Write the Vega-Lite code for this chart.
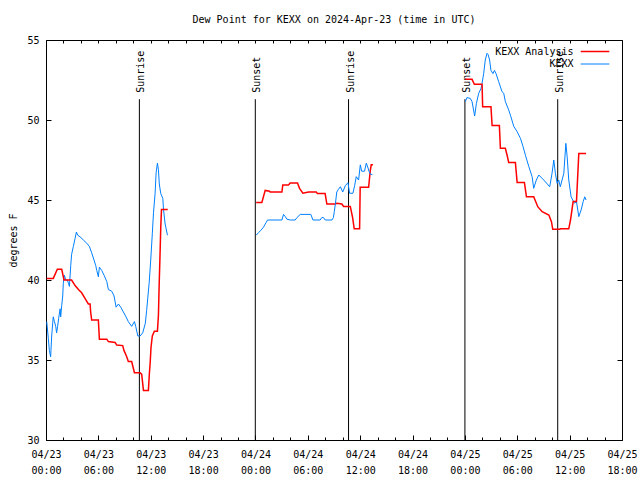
{
  "$schema": "https://vega.github.io/schema/vega-lite/v6.json",
  "width": 576,
  "height": 400,
  "autosize": {"type": "none"},
  "padding": {"left": 46, "top": 40, "right": 18, "bottom": 40},
  "background": "white",
  "title": {"text": "Dew Point for KEXX on 2024-Apr-23 (time in UTC)", "font": "DejaVu Sans Mono", "fontSize": 10, "fontWeight": "normal", "color": "black", "anchor": "middle", "offset": 10},
  "config": {
    "view": {"stroke": "black", "strokeWidth": 1},
    "axis": {"domain": false, "grid": false, "labelFont": "DejaVu Sans Mono", "labelFontSize": 10, "labelColor": "black", "tickColor": "black", "tickWidth": 1, "titleFont": "DejaVu Sans Mono", "titleFontSize": 10, "titleFontWeight": "normal", "titleColor": "black"},
    "legend": {"labelFont": "DejaVu Sans Mono", "labelFontSize": 10, "labelColor": "black"}
  },
  "datasets": {
    "obs": [
      {"time": "2024-04-23T00:05Z", "series": "KEXX", "seg": 1, "dewpoint": 37.4},
      {"time": "2024-04-23T00:16Z", "series": "KEXX", "seg": 1, "dewpoint": 36.35},
      {"time": "2024-04-23T00:23Z", "series": "KEXX", "seg": 1, "dewpoint": 35.6},
      {"time": "2024-04-23T00:32Z", "series": "KEXX", "seg": 1, "dewpoint": 35.2},
      {"time": "2024-04-23T00:39Z", "series": "KEXX", "seg": 1, "dewpoint": 36.5},
      {"time": "2024-04-23T00:46Z", "series": "KEXX", "seg": 1, "dewpoint": 37.3},
      {"time": "2024-04-23T00:50Z", "series": "KEXX", "seg": 1, "dewpoint": 37.7},
      {"time": "2024-04-23T00:58Z", "series": "KEXX", "seg": 1, "dewpoint": 37.4},
      {"time": "2024-04-23T01:07Z", "series": "KEXX", "seg": 1, "dewpoint": 37.1},
      {"time": "2024-04-23T01:13Z", "series": "KEXX", "seg": 1, "dewpoint": 36.7},
      {"time": "2024-04-23T01:20Z", "series": "KEXX", "seg": 1, "dewpoint": 37.1},
      {"time": "2024-04-23T01:27Z", "series": "KEXX", "seg": 1, "dewpoint": 37.6},
      {"time": "2024-04-23T01:37Z", "series": "KEXX", "seg": 1, "dewpoint": 38.2},
      {"time": "2024-04-23T01:41Z", "series": "KEXX", "seg": 1, "dewpoint": 37.7},
      {"time": "2024-04-23T01:48Z", "series": "KEXX", "seg": 1, "dewpoint": 38.4},
      {"time": "2024-04-23T01:55Z", "series": "KEXX", "seg": 1, "dewpoint": 39.0},
      {"time": "2024-04-23T01:59Z", "series": "KEXX", "seg": 1, "dewpoint": 39.8},
      {"time": "2024-04-23T02:06Z", "series": "KEXX", "seg": 1, "dewpoint": 40.3},
      {"time": "2024-04-23T02:16Z", "series": "KEXX", "seg": 1, "dewpoint": 40.0},
      {"time": "2024-04-23T02:27Z", "series": "KEXX", "seg": 1, "dewpoint": 40.0},
      {"time": "2024-04-23T02:34Z", "series": "KEXX", "seg": 1, "dewpoint": 39.8},
      {"time": "2024-04-23T02:41Z", "series": "KEXX", "seg": 1, "dewpoint": 39.6},
      {"time": "2024-04-23T02:50Z", "series": "KEXX", "seg": 1, "dewpoint": 40.9},
      {"time": "2024-04-23T02:56Z", "series": "KEXX", "seg": 1, "dewpoint": 41.6},
      {"time": "2024-04-23T03:08Z", "series": "KEXX", "seg": 1, "dewpoint": 42.1},
      {"time": "2024-04-23T03:20Z", "series": "KEXX", "seg": 1, "dewpoint": 42.6},
      {"time": "2024-04-23T03:29Z", "series": "KEXX", "seg": 1, "dewpoint": 43.0},
      {"time": "2024-04-23T03:38Z", "series": "KEXX", "seg": 1, "dewpoint": 42.8},
      {"time": "2024-04-23T03:54Z", "series": "KEXX", "seg": 1, "dewpoint": 42.7},
      {"time": "2024-04-23T04:17Z", "series": "KEXX", "seg": 1, "dewpoint": 42.5},
      {"time": "2024-04-23T04:40Z", "series": "KEXX", "seg": 1, "dewpoint": 42.3},
      {"time": "2024-04-23T04:58Z", "series": "KEXX", "seg": 1, "dewpoint": 42.1},
      {"time": "2024-04-23T05:14Z", "series": "KEXX", "seg": 1, "dewpoint": 41.7},
      {"time": "2024-04-23T05:30Z", "series": "KEXX", "seg": 1, "dewpoint": 41.25},
      {"time": "2024-04-23T05:42Z", "series": "KEXX", "seg": 1, "dewpoint": 40.9},
      {"time": "2024-04-23T05:49Z", "series": "KEXX", "seg": 1, "dewpoint": 40.6},
      {"time": "2024-04-23T06:00Z", "series": "KEXX", "seg": 1, "dewpoint": 40.2},
      {"time": "2024-04-23T06:07Z", "series": "KEXX", "seg": 1, "dewpoint": 40.8},
      {"time": "2024-04-23T06:23Z", "series": "KEXX", "seg": 1, "dewpoint": 40.6},
      {"time": "2024-04-23T06:39Z", "series": "KEXX", "seg": 1, "dewpoint": 40.3},
      {"time": "2024-04-23T06:58Z", "series": "KEXX", "seg": 1, "dewpoint": 39.9},
      {"time": "2024-04-23T07:09Z", "series": "KEXX", "seg": 1, "dewpoint": 39.4},
      {"time": "2024-04-23T07:32Z", "series": "KEXX", "seg": 1, "dewpoint": 39.3},
      {"time": "2024-04-23T07:48Z", "series": "KEXX", "seg": 1, "dewpoint": 39.0},
      {"time": "2024-04-23T08:02Z", "series": "KEXX", "seg": 1, "dewpoint": 38.3},
      {"time": "2024-04-23T08:18Z", "series": "KEXX", "seg": 1, "dewpoint": 38.5},
      {"time": "2024-04-23T08:34Z", "series": "KEXX", "seg": 1, "dewpoint": 38.3},
      {"time": "2024-04-23T08:52Z", "series": "KEXX", "seg": 1, "dewpoint": 38.0},
      {"time": "2024-04-23T09:10Z", "series": "KEXX", "seg": 1, "dewpoint": 37.7},
      {"time": "2024-04-23T09:26Z", "series": "KEXX", "seg": 1, "dewpoint": 37.4},
      {"time": "2024-04-23T09:49Z", "series": "KEXX", "seg": 1, "dewpoint": 37.1},
      {"time": "2024-04-23T10:08Z", "series": "KEXX", "seg": 1, "dewpoint": 37.4},
      {"time": "2024-04-23T10:17Z", "series": "KEXX", "seg": 1, "dewpoint": 37.1},
      {"time": "2024-04-23T10:31Z", "series": "KEXX", "seg": 1, "dewpoint": 36.5},
      {"time": "2024-04-23T10:47Z", "series": "KEXX", "seg": 1, "dewpoint": 36.5},
      {"time": "2024-04-23T11:05Z", "series": "KEXX", "seg": 1, "dewpoint": 36.7},
      {"time": "2024-04-23T11:23Z", "series": "KEXX", "seg": 1, "dewpoint": 37.3},
      {"time": "2024-04-23T11:32Z", "series": "KEXX", "seg": 1, "dewpoint": 38.1},
      {"time": "2024-04-23T11:49Z", "series": "KEXX", "seg": 1, "dewpoint": 39.8},
      {"time": "2024-04-23T12:00Z", "series": "KEXX", "seg": 1, "dewpoint": 41.25},
      {"time": "2024-04-23T12:11Z", "series": "KEXX", "seg": 1, "dewpoint": 42.9},
      {"time": "2024-04-23T12:19Z", "series": "KEXX", "seg": 1, "dewpoint": 44.2},
      {"time": "2024-04-23T12:30Z", "series": "KEXX", "seg": 1, "dewpoint": 45.4},
      {"time": "2024-04-23T12:37Z", "series": "KEXX", "seg": 1, "dewpoint": 46.7},
      {"time": "2024-04-23T12:46Z", "series": "KEXX", "seg": 1, "dewpoint": 47.3},
      {"time": "2024-04-23T12:53Z", "series": "KEXX", "seg": 1, "dewpoint": 46.9},
      {"time": "2024-04-23T12:59Z", "series": "KEXX", "seg": 1, "dewpoint": 46.0},
      {"time": "2024-04-23T13:09Z", "series": "KEXX", "seg": 1, "dewpoint": 45.4},
      {"time": "2024-04-23T13:23Z", "series": "KEXX", "seg": 1, "dewpoint": 45.1},
      {"time": "2024-04-23T13:28Z", "series": "KEXX", "seg": 1, "dewpoint": 44.4},
      {"time": "2024-04-23T13:39Z", "series": "KEXX", "seg": 1, "dewpoint": 43.5},
      {"time": "2024-04-23T13:46Z", "series": "KEXX", "seg": 1, "dewpoint": 43.2},
      {"time": "2024-04-23T13:55Z", "series": "KEXX", "seg": 1, "dewpoint": 42.8},

      {"time": "2024-04-23T00:05Z", "series": "KEXX Analysis", "seg": 1, "dewpoint": 40.1},
      {"time": "2024-04-23T00:50Z", "series": "KEXX Analysis", "seg": 1, "dewpoint": 40.1},
      {"time": "2024-04-23T01:18Z", "series": "KEXX Analysis", "seg": 1, "dewpoint": 40.67},
      {"time": "2024-04-23T01:48Z", "series": "KEXX Analysis", "seg": 1, "dewpoint": 40.67},
      {"time": "2024-04-23T02:04Z", "series": "KEXX Analysis", "seg": 1, "dewpoint": 40.0},
      {"time": "2024-04-23T02:56Z", "series": "KEXX Analysis", "seg": 1, "dewpoint": 40.0},
      {"time": "2024-04-23T03:20Z", "series": "KEXX Analysis", "seg": 1, "dewpoint": 39.65},
      {"time": "2024-04-23T03:43Z", "series": "KEXX Analysis", "seg": 1, "dewpoint": 39.4},
      {"time": "2024-04-23T04:05Z", "series": "KEXX Analysis", "seg": 1, "dewpoint": 39.2},
      {"time": "2024-04-23T04:28Z", "series": "KEXX Analysis", "seg": 1, "dewpoint": 38.85},
      {"time": "2024-04-23T04:51Z", "series": "KEXX Analysis", "seg": 1, "dewpoint": 38.5},
      {"time": "2024-04-23T05:03Z", "series": "KEXX Analysis", "seg": 1, "dewpoint": 38.5},
      {"time": "2024-04-23T05:07Z", "series": "KEXX Analysis", "seg": 1, "dewpoint": 38.0},
      {"time": "2024-04-23T05:14Z", "series": "KEXX Analysis", "seg": 1, "dewpoint": 37.5},
      {"time": "2024-04-23T06:00Z", "series": "KEXX Analysis", "seg": 1, "dewpoint": 37.5},
      {"time": "2024-04-23T06:07Z", "series": "KEXX Analysis", "seg": 1, "dewpoint": 36.3},
      {"time": "2024-04-23T06:58Z", "series": "KEXX Analysis", "seg": 1, "dewpoint": 36.3},
      {"time": "2024-04-23T07:09Z", "series": "KEXX Analysis", "seg": 1, "dewpoint": 36.15},
      {"time": "2024-04-23T07:55Z", "series": "KEXX Analysis", "seg": 1, "dewpoint": 36.1},
      {"time": "2024-04-23T08:06Z", "series": "KEXX Analysis", "seg": 1, "dewpoint": 35.94},
      {"time": "2024-04-23T08:47Z", "series": "KEXX Analysis", "seg": 1, "dewpoint": 35.9},
      {"time": "2024-04-23T08:56Z", "series": "KEXX Analysis", "seg": 1, "dewpoint": 35.6},
      {"time": "2024-04-23T09:15Z", "series": "KEXX Analysis", "seg": 1, "dewpoint": 35.2},
      {"time": "2024-04-23T09:26Z", "series": "KEXX Analysis", "seg": 1, "dewpoint": 34.9},
      {"time": "2024-04-23T09:49Z", "series": "KEXX Analysis", "seg": 1, "dewpoint": 34.9},
      {"time": "2024-04-23T10:00Z", "series": "KEXX Analysis", "seg": 1, "dewpoint": 34.5},
      {"time": "2024-04-23T10:08Z", "series": "KEXX Analysis", "seg": 1, "dewpoint": 34.2},
      {"time": "2024-04-23T10:47Z", "series": "KEXX Analysis", "seg": 1, "dewpoint": 34.2},
      {"time": "2024-04-23T10:58Z", "series": "KEXX Analysis", "seg": 1, "dewpoint": 34.1},
      {"time": "2024-04-23T11:10Z", "series": "KEXX Analysis", "seg": 1, "dewpoint": 33.1},
      {"time": "2024-04-23T11:44Z", "series": "KEXX Analysis", "seg": 1, "dewpoint": 33.1},
      {"time": "2024-04-23T11:51Z", "series": "KEXX Analysis", "seg": 1, "dewpoint": 34.2},
      {"time": "2024-04-23T11:56Z", "series": "KEXX Analysis", "seg": 1, "dewpoint": 34.8},
      {"time": "2024-04-23T12:02Z", "series": "KEXX Analysis", "seg": 1, "dewpoint": 35.8},
      {"time": "2024-04-23T12:11Z", "series": "KEXX Analysis", "seg": 1, "dewpoint": 36.5},
      {"time": "2024-04-23T12:25Z", "series": "KEXX Analysis", "seg": 1, "dewpoint": 36.8},
      {"time": "2024-04-23T12:46Z", "series": "KEXX Analysis", "seg": 1, "dewpoint": 36.8},
      {"time": "2024-04-23T12:53Z", "series": "KEXX Analysis", "seg": 1, "dewpoint": 37.8},
      {"time": "2024-04-23T12:58Z", "series": "KEXX Analysis", "seg": 1, "dewpoint": 39.7},
      {"time": "2024-04-23T13:04Z", "series": "KEXX Analysis", "seg": 1, "dewpoint": 41.6},
      {"time": "2024-04-23T13:09Z", "series": "KEXX Analysis", "seg": 1, "dewpoint": 43.3},
      {"time": "2024-04-23T13:14Z", "series": "KEXX Analysis", "seg": 1, "dewpoint": 44.4},
      {"time": "2024-04-23T13:57Z", "series": "KEXX Analysis", "seg": 1, "dewpoint": 44.4},

      {"time": "2024-04-24T00:05Z", "series": "KEXX Analysis", "seg": 2, "dewpoint": 44.85},
      {"time": "2024-04-24T00:44Z", "series": "KEXX Analysis", "seg": 2, "dewpoint": 44.85},
      {"time": "2024-04-24T01:07Z", "series": "KEXX Analysis", "seg": 2, "dewpoint": 45.6},
      {"time": "2024-04-24T01:37Z", "series": "KEXX Analysis", "seg": 2, "dewpoint": 45.55},
      {"time": "2024-04-24T01:41Z", "series": "KEXX Analysis", "seg": 2, "dewpoint": 45.5},
      {"time": "2024-04-24T03:02Z", "series": "KEXX Analysis", "seg": 2, "dewpoint": 45.5},
      {"time": "2024-04-24T03:08Z", "series": "KEXX Analysis", "seg": 2, "dewpoint": 45.94},
      {"time": "2024-04-24T03:47Z", "series": "KEXX Analysis", "seg": 2, "dewpoint": 45.94},
      {"time": "2024-04-24T03:59Z", "series": "KEXX Analysis", "seg": 2, "dewpoint": 46.06},
      {"time": "2024-04-24T04:49Z", "series": "KEXX Analysis", "seg": 2, "dewpoint": 46.06},
      {"time": "2024-04-24T05:03Z", "series": "KEXX Analysis", "seg": 2, "dewpoint": 45.73},
      {"time": "2024-04-24T05:26Z", "series": "KEXX Analysis", "seg": 2, "dewpoint": 45.42},
      {"time": "2024-04-24T06:05Z", "series": "KEXX Analysis", "seg": 2, "dewpoint": 45.5},
      {"time": "2024-04-24T06:58Z", "series": "KEXX Analysis", "seg": 2, "dewpoint": 45.5},
      {"time": "2024-04-24T07:06Z", "series": "KEXX Analysis", "seg": 2, "dewpoint": 45.4},
      {"time": "2024-04-24T07:59Z", "series": "KEXX Analysis", "seg": 2, "dewpoint": 45.4},
      {"time": "2024-04-24T08:11Z", "series": "KEXX Analysis", "seg": 2, "dewpoint": 44.75},
      {"time": "2024-04-24T09:08Z", "series": "KEXX Analysis", "seg": 2, "dewpoint": 44.75},
      {"time": "2024-04-24T09:20Z", "series": "KEXX Analysis", "seg": 2, "dewpoint": 44.8},
      {"time": "2024-04-24T09:54Z", "series": "KEXX Analysis", "seg": 2, "dewpoint": 44.75},
      {"time": "2024-04-24T10:06Z", "series": "KEXX Analysis", "seg": 2, "dewpoint": 44.6},
      {"time": "2024-04-24T10:52Z", "series": "KEXX Analysis", "seg": 2, "dewpoint": 44.6},
      {"time": "2024-04-24T11:08Z", "series": "KEXX Analysis", "seg": 2, "dewpoint": 43.9},
      {"time": "2024-04-24T11:19Z", "series": "KEXX Analysis", "seg": 2, "dewpoint": 43.2},
      {"time": "2024-04-24T11:56Z", "series": "KEXX Analysis", "seg": 2, "dewpoint": 43.2},
      {"time": "2024-04-24T12:00Z", "series": "KEXX Analysis", "seg": 2, "dewpoint": 45.8},
      {"time": "2024-04-24T12:58Z", "series": "KEXX Analysis", "seg": 2, "dewpoint": 45.8},
      {"time": "2024-04-24T13:09Z", "series": "KEXX Analysis", "seg": 2, "dewpoint": 46.8},
      {"time": "2024-04-24T13:16Z", "series": "KEXX Analysis", "seg": 2, "dewpoint": 47.2},
      {"time": "2024-04-24T13:28Z", "series": "KEXX Analysis", "seg": 2, "dewpoint": 47.2},

      {"time": "2024-04-24T00:05Z", "series": "KEXX", "seg": 2, "dewpoint": 42.8},
      {"time": "2024-04-24T00:21Z", "series": "KEXX", "seg": 2, "dewpoint": 42.96},
      {"time": "2024-04-24T00:37Z", "series": "KEXX", "seg": 2, "dewpoint": 43.1},
      {"time": "2024-04-24T00:55Z", "series": "KEXX", "seg": 2, "dewpoint": 43.3},
      {"time": "2024-04-24T01:14Z", "series": "KEXX", "seg": 2, "dewpoint": 43.6},
      {"time": "2024-04-24T01:23Z", "series": "KEXX", "seg": 2, "dewpoint": 43.75},
      {"time": "2024-04-24T03:02Z", "series": "KEXX", "seg": 2, "dewpoint": 43.75},
      {"time": "2024-04-24T03:13Z", "series": "KEXX", "seg": 2, "dewpoint": 44.1},
      {"time": "2024-04-24T03:25Z", "series": "KEXX", "seg": 2, "dewpoint": 43.96},
      {"time": "2024-04-24T03:36Z", "series": "KEXX", "seg": 2, "dewpoint": 43.8},
      {"time": "2024-04-24T03:59Z", "series": "KEXX", "seg": 2, "dewpoint": 43.75},
      {"time": "2024-04-24T04:33Z", "series": "KEXX", "seg": 2, "dewpoint": 43.75},
      {"time": "2024-04-24T04:45Z", "series": "KEXX", "seg": 2, "dewpoint": 43.9},
      {"time": "2024-04-24T05:08Z", "series": "KEXX", "seg": 2, "dewpoint": 44.1},
      {"time": "2024-04-24T06:21Z", "series": "KEXX", "seg": 2, "dewpoint": 44.1},
      {"time": "2024-04-24T06:35Z", "series": "KEXX", "seg": 2, "dewpoint": 43.75},
      {"time": "2024-04-24T07:25Z", "series": "KEXX", "seg": 2, "dewpoint": 43.75},
      {"time": "2024-04-24T07:36Z", "series": "KEXX", "seg": 2, "dewpoint": 43.9},
      {"time": "2024-04-24T07:48Z", "series": "KEXX", "seg": 2, "dewpoint": 43.9},
      {"time": "2024-04-24T08:00Z", "series": "KEXX", "seg": 2, "dewpoint": 43.75},
      {"time": "2024-04-24T08:46Z", "series": "KEXX", "seg": 2, "dewpoint": 43.75},
      {"time": "2024-04-24T08:56Z", "series": "KEXX", "seg": 2, "dewpoint": 43.9},
      {"time": "2024-04-24T09:02Z", "series": "KEXX", "seg": 2, "dewpoint": 44.27},
      {"time": "2024-04-24T09:10Z", "series": "KEXX", "seg": 2, "dewpoint": 44.8},
      {"time": "2024-04-24T09:19Z", "series": "KEXX", "seg": 2, "dewpoint": 45.5},
      {"time": "2024-04-24T09:30Z", "series": "KEXX", "seg": 2, "dewpoint": 45.66},
      {"time": "2024-04-24T09:44Z", "series": "KEXX", "seg": 2, "dewpoint": 45.83},
      {"time": "2024-04-24T10:00Z", "series": "KEXX", "seg": 2, "dewpoint": 45.5},
      {"time": "2024-04-24T10:18Z", "series": "KEXX", "seg": 2, "dewpoint": 45.9},
      {"time": "2024-04-24T10:36Z", "series": "KEXX", "seg": 2, "dewpoint": 46.08},
      {"time": "2024-04-24T10:47Z", "series": "KEXX", "seg": 2, "dewpoint": 45.42},
      {"time": "2024-04-24T11:10Z", "series": "KEXX", "seg": 2, "dewpoint": 45.42},
      {"time": "2024-04-24T11:22Z", "series": "KEXX", "seg": 2, "dewpoint": 45.9},
      {"time": "2024-04-24T11:33Z", "series": "KEXX", "seg": 2, "dewpoint": 46.46},
      {"time": "2024-04-24T11:49Z", "series": "KEXX", "seg": 2, "dewpoint": 46.25},
      {"time": "2024-04-24T12:01Z", "series": "KEXX", "seg": 2, "dewpoint": 47.2},
      {"time": "2024-04-24T12:10Z", "series": "KEXX", "seg": 2, "dewpoint": 46.8},
      {"time": "2024-04-24T12:30Z", "series": "KEXX", "seg": 2, "dewpoint": 46.8},
      {"time": "2024-04-24T12:42Z", "series": "KEXX", "seg": 2, "dewpoint": 47.3},
      {"time": "2024-04-24T12:54Z", "series": "KEXX", "seg": 2, "dewpoint": 47.0},
      {"time": "2024-04-24T13:00Z", "series": "KEXX", "seg": 2, "dewpoint": 46.8},
      {"time": "2024-04-24T13:12Z", "series": "KEXX", "seg": 2, "dewpoint": 46.6},
      {"time": "2024-04-24T13:24Z", "series": "KEXX", "seg": 2, "dewpoint": 46.6},

      {"time": "2024-04-25T00:03Z", "series": "KEXX", "seg": 3, "dewpoint": 51.15},
      {"time": "2024-04-25T00:14Z", "series": "KEXX", "seg": 3, "dewpoint": 51.4},
      {"time": "2024-04-25T00:37Z", "series": "KEXX", "seg": 3, "dewpoint": 51.35},
      {"time": "2024-04-25T00:49Z", "series": "KEXX", "seg": 3, "dewpoint": 51.15},
      {"time": "2024-04-25T01:07Z", "series": "KEXX", "seg": 3, "dewpoint": 50.25},
      {"time": "2024-04-25T01:19Z", "series": "KEXX", "seg": 3, "dewpoint": 51.04},
      {"time": "2024-04-25T01:35Z", "series": "KEXX", "seg": 3, "dewpoint": 51.67},
      {"time": "2024-04-25T01:51Z", "series": "KEXX", "seg": 3, "dewpoint": 51.98},
      {"time": "2024-04-25T01:58Z", "series": "KEXX", "seg": 3, "dewpoint": 52.3},
      {"time": "2024-04-25T02:09Z", "series": "KEXX", "seg": 3, "dewpoint": 52.9},
      {"time": "2024-04-25T02:20Z", "series": "KEXX", "seg": 3, "dewpoint": 53.75},
      {"time": "2024-04-25T02:32Z", "series": "KEXX", "seg": 3, "dewpoint": 54.17},
      {"time": "2024-04-25T02:39Z", "series": "KEXX", "seg": 3, "dewpoint": 54.1},
      {"time": "2024-04-25T02:50Z", "series": "KEXX", "seg": 3, "dewpoint": 53.75},
      {"time": "2024-04-25T02:59Z", "series": "KEXX", "seg": 3, "dewpoint": 53.1},
      {"time": "2024-04-25T03:13Z", "series": "KEXX", "seg": 3, "dewpoint": 52.9},
      {"time": "2024-04-25T03:23Z", "series": "KEXX", "seg": 3, "dewpoint": 53.1},
      {"time": "2024-04-25T03:34Z", "series": "KEXX", "seg": 3, "dewpoint": 52.9},
      {"time": "2024-04-25T03:52Z", "series": "KEXX", "seg": 3, "dewpoint": 52.4},
      {"time": "2024-04-25T04:15Z", "series": "KEXX", "seg": 3, "dewpoint": 51.77},
      {"time": "2024-04-25T04:27Z", "series": "KEXX", "seg": 3, "dewpoint": 51.67},
      {"time": "2024-04-25T04:38Z", "series": "KEXX", "seg": 3, "dewpoint": 51.15},
      {"time": "2024-04-25T05:01Z", "series": "KEXX", "seg": 3, "dewpoint": 50.63},
      {"time": "2024-04-25T05:13Z", "series": "KEXX", "seg": 3, "dewpoint": 50.3},
      {"time": "2024-04-25T05:36Z", "series": "KEXX", "seg": 3, "dewpoint": 49.6},
      {"time": "2024-04-25T05:59Z", "series": "KEXX", "seg": 3, "dewpoint": 49.27},
      {"time": "2024-04-25T06:22Z", "series": "KEXX", "seg": 3, "dewpoint": 48.85},
      {"time": "2024-04-25T06:40Z", "series": "KEXX", "seg": 3, "dewpoint": 48.33},
      {"time": "2024-04-25T06:56Z", "series": "KEXX", "seg": 3, "dewpoint": 47.8},
      {"time": "2024-04-25T07:19Z", "series": "KEXX", "seg": 3, "dewpoint": 47.1},
      {"time": "2024-04-25T07:42Z", "series": "KEXX", "seg": 3, "dewpoint": 46.46},
      {"time": "2024-04-25T07:53Z", "series": "KEXX", "seg": 3, "dewpoint": 45.73},
      {"time": "2024-04-25T08:11Z", "series": "KEXX", "seg": 3, "dewpoint": 46.25},
      {"time": "2024-04-25T08:28Z", "series": "KEXX", "seg": 3, "dewpoint": 46.56},
      {"time": "2024-04-25T09:02Z", "series": "KEXX", "seg": 3, "dewpoint": 46.25},
      {"time": "2024-04-25T09:43Z", "series": "KEXX", "seg": 3, "dewpoint": 45.83},
      {"time": "2024-04-25T09:59Z", "series": "KEXX", "seg": 3, "dewpoint": 46.67},
      {"time": "2024-04-25T10:11Z", "series": "KEXX", "seg": 3, "dewpoint": 47.5},
      {"time": "2024-04-25T10:22Z", "series": "KEXX", "seg": 3, "dewpoint": 46.67},
      {"time": "2024-04-25T10:34Z", "series": "KEXX", "seg": 3, "dewpoint": 46.04},
      {"time": "2024-04-25T10:45Z", "series": "KEXX", "seg": 3, "dewpoint": 46.25},
      {"time": "2024-04-25T10:56Z", "series": "KEXX", "seg": 3, "dewpoint": 45.83},
      {"time": "2024-04-25T11:20Z", "series": "KEXX", "seg": 3, "dewpoint": 46.67},
      {"time": "2024-04-25T11:34Z", "series": "KEXX", "seg": 3, "dewpoint": 48.54},
      {"time": "2024-04-25T11:43Z", "series": "KEXX", "seg": 3, "dewpoint": 47.7},
      {"time": "2024-04-25T11:54Z", "series": "KEXX", "seg": 3, "dewpoint": 46.25},
      {"time": "2024-04-25T12:10Z", "series": "KEXX", "seg": 3, "dewpoint": 45.2},
      {"time": "2024-04-25T12:33Z", "series": "KEXX", "seg": 3, "dewpoint": 44.8},
      {"time": "2024-04-25T12:47Z", "series": "KEXX", "seg": 3, "dewpoint": 44.9},
      {"time": "2024-04-25T13:03Z", "series": "KEXX", "seg": 3, "dewpoint": 43.96},
      {"time": "2024-04-25T13:19Z", "series": "KEXX", "seg": 3, "dewpoint": 44.38},
      {"time": "2024-04-25T13:33Z", "series": "KEXX", "seg": 3, "dewpoint": 44.9},
      {"time": "2024-04-25T13:44Z", "series": "KEXX", "seg": 3, "dewpoint": 45.2},
      {"time": "2024-04-25T13:53Z", "series": "KEXX", "seg": 3, "dewpoint": 45.0},

      {"time": "2024-04-25T00:03Z", "series": "KEXX Analysis", "seg": 3, "dewpoint": 52.54},
      {"time": "2024-04-25T00:49Z", "series": "KEXX Analysis", "seg": 3, "dewpoint": 52.54},
      {"time": "2024-04-25T01:05Z", "series": "KEXX Analysis", "seg": 3, "dewpoint": 52.23},
      {"time": "2024-04-25T01:58Z", "series": "KEXX Analysis", "seg": 3, "dewpoint": 52.23},
      {"time": "2024-04-25T02:02Z", "series": "KEXX Analysis", "seg": 3, "dewpoint": 50.83},
      {"time": "2024-04-25T02:59Z", "series": "KEXX Analysis", "seg": 3, "dewpoint": 50.83},
      {"time": "2024-04-25T03:07Z", "series": "KEXX Analysis", "seg": 3, "dewpoint": 49.65},
      {"time": "2024-04-25T03:57Z", "series": "KEXX Analysis", "seg": 3, "dewpoint": 49.65},
      {"time": "2024-04-25T04:04Z", "series": "KEXX Analysis", "seg": 3, "dewpoint": 48.23},
      {"time": "2024-04-25T04:38Z", "series": "KEXX Analysis", "seg": 3, "dewpoint": 48.23},
      {"time": "2024-04-25T04:50Z", "series": "KEXX Analysis", "seg": 3, "dewpoint": 47.8},
      {"time": "2024-04-25T05:01Z", "series": "KEXX Analysis", "seg": 3, "dewpoint": 47.35},
      {"time": "2024-04-25T05:47Z", "series": "KEXX Analysis", "seg": 3, "dewpoint": 47.35},
      {"time": "2024-04-25T05:59Z", "series": "KEXX Analysis", "seg": 3, "dewpoint": 46.1},
      {"time": "2024-04-25T06:49Z", "series": "KEXX Analysis", "seg": 3, "dewpoint": 46.1},
      {"time": "2024-04-25T07:03Z", "series": "KEXX Analysis", "seg": 3, "dewpoint": 45.2},
      {"time": "2024-04-25T07:53Z", "series": "KEXX Analysis", "seg": 3, "dewpoint": 45.2},
      {"time": "2024-04-25T08:21Z", "series": "KEXX Analysis", "seg": 3, "dewpoint": 44.58},
      {"time": "2024-04-25T08:51Z", "series": "KEXX Analysis", "seg": 3, "dewpoint": 44.27},
      {"time": "2024-04-25T09:37Z", "series": "KEXX Analysis", "seg": 3, "dewpoint": 44.06},
      {"time": "2024-04-25T09:55Z", "series": "KEXX Analysis", "seg": 3, "dewpoint": 43.65},
      {"time": "2024-04-25T10:04Z", "series": "KEXX Analysis", "seg": 3, "dewpoint": 43.17},
      {"time": "2024-04-25T10:52Z", "series": "KEXX Analysis", "seg": 3, "dewpoint": 43.17},
      {"time": "2024-04-25T10:56Z", "series": "KEXX Analysis", "seg": 3, "dewpoint": 43.2},
      {"time": "2024-04-25T11:54Z", "series": "KEXX Analysis", "seg": 3, "dewpoint": 43.2},
      {"time": "2024-04-25T12:06Z", "series": "KEXX Analysis", "seg": 3, "dewpoint": 43.75},
      {"time": "2024-04-25T12:24Z", "series": "KEXX Analysis", "seg": 3, "dewpoint": 44.9},
      {"time": "2024-04-25T12:47Z", "series": "KEXX Analysis", "seg": 3, "dewpoint": 44.9},
      {"time": "2024-04-25T13:03Z", "series": "KEXX Analysis", "seg": 3, "dewpoint": 47.9},
      {"time": "2024-04-25T13:53Z", "series": "KEXX Analysis", "seg": 3, "dewpoint": 47.9}
    ],
    "events": [
      {"time": "2024-04-23T10:42Z", "label": "Sunrise"},
      {"time": "2024-04-23T23:59Z", "label": "Sunset"},
      {"time": "2024-04-24T10:40Z", "label": "Sunrise"},
      {"time": "2024-04-25T00:00Z", "label": "Sunset"},
      {"time": "2024-04-25T10:38Z", "label": "Sunrise"}
    ]
  },
  "resolve": {"axis": {"x": "independent", "y": "independent"}},
  "layer": [
    {
      "data": {"name": "events"},
      "mark": {"type": "rule", "color": "black", "strokeWidth": 1},
      "encoding": {
        "x": {"field": "time", "type": "temporal",
          "scale": {"type": "utc", "domain": [1713830400000, 1714068000000], "nice": false},
          "axis": {"orient": "bottom", "values": [1713830400000, 1713837600000, 1713844800000, 1713852000000, 1713859200000, 1713866400000, 1713873600000, 1713880800000, 1713888000000, 1713895200000, 1713902400000, 1713909600000, 1713916800000, 1713924000000, 1713931200000, 1713938400000, 1713945600000, 1713952800000, 1713960000000, 1713967200000, 1713974400000, 1713981600000, 1713988800000, 1713996000000, 1714003200000, 1714010400000, 1714017600000, 1714024800000, 1714032000000, 1714039200000, 1714046400000, 1714053600000, 1714060800000, 1714068000000], "labels": false, "tickSize": -3, "title": null}},
        "y": {"datum": 30, "type": "quantitative",
          "scale": {"domain": [30, 55], "nice": false, "zero": false},
          "axis": {"orient": "right", "values": [30, 35, 40, 45, 50, 55], "labels": false, "tickSize": -5, "title": null}},
        "y2": {"datum": 51.3}
      }
    },
    {
      "data": {"name": "events"},
      "mark": {"type": "text", "angle": 270, "align": "left", "baseline": "alphabetic", "dy": 5, "font": "DejaVu Sans Mono", "fontSize": 10, "color": "black"},
      "encoding": {
        "x": {"field": "time", "type": "temporal",
          "scale": {"type": "utc", "domain": [1713830400000, 1714068000000], "nice": false},
          "axis": {"orient": "top", "values": [1713830400000, 1713837600000, 1713844800000, 1713852000000, 1713859200000, 1713866400000, 1713873600000, 1713880800000, 1713888000000, 1713895200000, 1713902400000, 1713909600000, 1713916800000, 1713924000000, 1713931200000, 1713938400000, 1713945600000, 1713952800000, 1713960000000, 1713967200000, 1713974400000, 1713981600000, 1713988800000, 1713996000000, 1714003200000, 1714010400000, 1714017600000, 1714024800000, 1714032000000, 1714039200000, 1714046400000, 1714053600000, 1714060800000, 1714068000000], "labels": false, "tickSize": -3, "title": null}},
        "y": {"datum": 51.7, "type": "quantitative", "axis": null},
        "text": {"field": "label"}
      }
    },
    {
      "data": {"name": "obs"},
      "mark": {"type": "line", "interpolate": "linear"},
      "encoding": {
        "x": {"field": "time", "type": "temporal",
          "scale": {"type": "utc", "domain": [1713830400000, 1714068000000], "nice": false},
          "axis": {"orient": "bottom", "values": [1713830400000, 1713852000000, 1713873600000, 1713895200000, 1713916800000, 1713938400000, 1713960000000, 1713981600000, 1714003200000, 1714024800000, 1714046400000, 1714068000000], "labelExpr": "[utcFormat(datum.value, '%m/%d'), utcFormat(datum.value, '%H:%M')]", "labelLineHeight": 16, "labelPadding": 14, "labelFlush": false, "labelOverlap": false, "tickSize": -5, "title": null}},
        "y": {"field": "dewpoint", "type": "quantitative",
          "scale": {"domain": [30, 55], "nice": false, "zero": false},
          "axis": {"orient": "left", "values": [30, 35, 40, 45, 50, 55], "tickSize": -5, "labelPadding": 12, "title": "degrees F", "titleX": -28, "titleY": 200, "titleAngle": 270, "titleBaseline": "bottom", "titleAlign": "center"}},
        "color": {"field": "series", "type": "nominal",
          "scale": {"domain": ["KEXX Analysis", "KEXX"], "range": ["#ff0000", "#0080ff"]},
          "legend": {"orient": "none", "legendX": 542.5, "legendY": 5, "title": null, "padding": 0, "symbolType": "M-2.5,0H2.5", "symbolSize": 131, "symbolStrokeWidth": 1.5, "labelAlign": "right", "labelBaseline": "middle", "labelOffset": -28, "rowPadding": 0.5}},
        "strokeWidth": {"field": "series", "type": "ordinal",
          "scale": {"domain": ["KEXX Analysis", "KEXX"], "range": [1.5, 1]}, "legend": null},
        "detail": {"field": "seg", "type": "nominal"}
      }
    }
  ]
}
